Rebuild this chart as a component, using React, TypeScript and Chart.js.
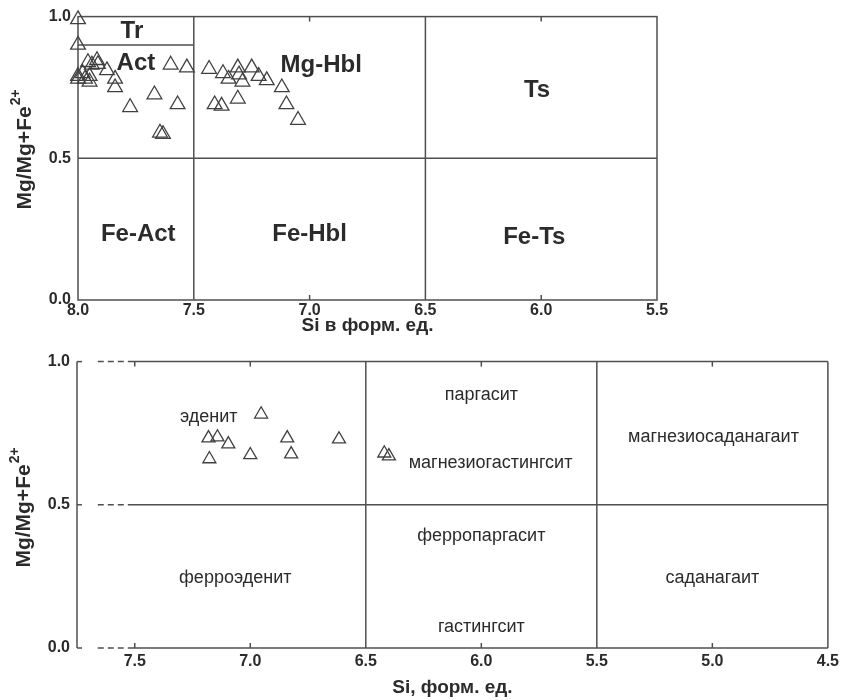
import React, { useEffect, useRef } from "react";
import { Chart, registerables } from "chart.js";
Chart.register(...registerables);

const FONT = "'Liberation Sans', Arial, Helvetica, sans-serif";
const TEXT = "#2b2b2b";
const LINE = "#4f4f4f";
const MARK = "#404040";

// ---------- Top diagram (Si 8.0 – 5.5) ----------
const topXTicks = [8.0, 7.5, 7.0, 6.5, 6.0, 5.5];
const topYTicks = [0.0, 0.5, 1.0];
const topSi = [
  8.0, 8.0, 7.957, 7.918, 7.914, 7.94, 7.875, 8.0, 7.98, 8.0, 7.95, 7.95, 7.97,
  7.84, 7.84, 7.775, 7.67, 7.646, 7.633, 7.6, 7.57, 7.53,
  7.434, 7.374, 7.35, 7.31, 7.305, 7.29, 7.25, 7.22, 7.185, 7.12,
  7.41, 7.38, 7.31, 7.1, 7.05,
];
const topMg = [
  0.99, 0.9, 0.839, 0.846, 0.832, 0.83, 0.81, 0.79, 0.8, 0.78, 0.77, 0.79, 0.78,
  0.78, 0.75, 0.68, 0.725, 0.59, 0.585, 0.83, 0.69, 0.82,
  0.815, 0.8, 0.78, 0.82, 0.795, 0.77, 0.82, 0.79, 0.775, 0.75,
  0.69, 0.685, 0.71, 0.69, 0.635,
];
const topFieldNames = ["Tr", "Act", "Mg-Hbl", "Ts", "Fe-Act", "Fe-Hbl", "Fe-Ts"];
const topFieldSi = [7.767, 7.75, 6.95, 6.018, 7.74, 7.0, 6.03];
const topFieldMg = [0.948, 0.836, 0.829, 0.741, 0.23, 0.23, 0.22];
const topVertBounds = [7.5, 6.5];
const topMinorTicks = [7.0, 6.0];

// ---------- Bottom diagram (Si 7.75 – 4.5) ----------
const botXTicks = [7.5, 7.0, 6.5, 6.0, 5.5, 5.0, 4.5];
const botYTicks = [0.0, 0.5, 1.0];
const botSi = [6.953, 7.181, 7.142, 7.095, 7.177, 7.0, 6.84, 6.823, 6.616, 6.42, 6.4];
const botMg = [0.816, 0.733, 0.736, 0.712, 0.66, 0.674, 0.733, 0.677, 0.729, 0.68, 0.67];
const botFieldNames = [
  "паргасит", "магнезиогастингсит", "магнезиосаданагаит", "эденит",
  "ферропаргасит", "ферроэденит", "саданагаит", "гастингсит",
];
const botFieldSi = [6.0, 5.96, 4.995, 7.18, 6.0, 7.065, 5.0, 6.0];
const botFieldMg = [0.882, 0.646, 0.736, 0.806, 0.392, 0.243, 0.243, 0.073];
const botVertBounds = [6.5, 5.5];
const botMinorTicks = [7.5, 7.0, 6.0, 5.0];

function seg(ctx: CanvasRenderingContext2D, x1: number, y1: number, x2: number, y2: number) {
  ctx.beginPath();
  ctx.moveTo(x1, y1);
  ctx.lineTo(x2, y2);
  ctx.stroke();
}

function drawYTitle(ctx: CanvasRenderingContext2D, cx: number, cy: number) {
  ctx.save();
  ctx.translate(cx, cy);
  ctx.rotate(-Math.PI / 2);
  ctx.fillStyle = TEXT;
  ctx.textBaseline = "middle";
  ctx.textAlign = "left";
  const main = "Mg/Mg+Fe";
  const sup = "2+";
  ctx.font = `bold 21px ${FONT}`;
  const w1 = ctx.measureText(main).width;
  ctx.font = `bold 14px ${FONT}`;
  const w2 = ctx.measureText(sup).width;
  const x0 = -(w1 + w2) / 2;
  ctx.font = `bold 21px ${FONT}`;
  ctx.fillText(main, x0, 0);
  ctx.font = `bold 14px ${FONT}`;
  ctx.fillText(sup, x0 + w1 + 1, -9);
  ctx.restore();
}

const topPlugin = {
  id: "topFrame",
  beforeDatasetsDraw(chart: any) {
    const { ctx, chartArea: a, scales } = chart;
    const x = (v: number) => scales.x.getPixelForValue(v);
    const y = (v: number) => scales.y.getPixelForValue(v);
    ctx.save();
    ctx.strokeStyle = LINE;
    ctx.lineWidth = 1.5;
    ctx.strokeRect(a.left, a.top, a.right - a.left, a.bottom - a.top);
    topVertBounds.forEach((v) => seg(ctx, x(v), y(0), x(v), y(1)));
    seg(ctx, x(8.0), y(0.5), x(5.5), y(0.5));
    seg(ctx, x(8.0), y(0.9), x(7.5), y(0.9));
    topMinorTicks.forEach((v) => {
      seg(ctx, x(v), y(0), x(v), y(0) - 5);
      seg(ctx, x(v), y(1), x(v), y(1) + 5);
    });
    ctx.fillStyle = TEXT;
    ctx.font = `bold 24px ${FONT}`;
    ctx.textAlign = "center";
    ctx.textBaseline = "middle";
    topFieldNames.forEach((n, i) => ctx.fillText(n, x(topFieldSi[i]), y(topFieldMg[i])));
    ctx.font = `bold 19px ${FONT}`;
    ctx.fillText("Si в форм. ед.", (a.left + a.right) / 2, 326);
    drawYTitle(ctx, 25, 150);
    ctx.restore();
  },
};

const botPlugin = {
  id: "botFrame",
  beforeDatasetsDraw(chart: any) {
    const { ctx, chartArea: a, scales } = chart;
    const x = (v: number) => scales.x.getPixelForValue(v);
    const y = (v: number) => scales.y.getPixelForValue(v);
    ctx.save();
    ctx.strokeStyle = LINE;
    ctx.lineWidth = 1.5;
    // left axis with ticks
    seg(ctx, a.left, y(0), a.left, y(1));
    botYTicks.forEach((v) => seg(ctx, a.left, y(v), a.left + 5, y(v)));
    botYTicks.forEach((v) => {
      ctx.setLineDash([6, 4]);
      seg(ctx, x(7.66), y(v), x(7.53), y(v));
      ctx.setLineDash([]);
      seg(ctx, x(7.53), y(v), x(4.5), y(v));
    });
    seg(ctx, x(4.5), y(0), x(4.5), y(1));
    botVertBounds.forEach((v) => seg(ctx, x(v), y(0), x(v), y(1)));
    botMinorTicks.forEach((v) => {
      seg(ctx, x(v), y(0), x(v), y(0) - 5);
      seg(ctx, x(v), y(1), x(v), y(1) + 5);
    });
    ctx.fillStyle = TEXT;
    ctx.font = `18px ${FONT}`;
    ctx.textAlign = "center";
    ctx.textBaseline = "middle";
    botFieldNames.forEach((n, i) => ctx.fillText(n, x(botFieldSi[i]), y(botFieldMg[i])));
    ctx.font = `bold 19px ${FONT}`;
    ctx.fillText("Si, форм. ед.", (a.left + a.right) / 2, 343);
    drawYTitle(ctx, 24, 163);
    ctx.restore();
  },
};

function scaleCfg(
  min: number,
  max: number,
  ticks: number[],
  horizontal: boolean,
  size: number,
  reverse: boolean,
  pad: number
) {
  return {
    type: "linear",
    min,
    max,
    reverse,
    afterBuildTicks: (s: any) => {
      s.ticks = ticks.map((v) => ({ value: v }));
    },
    afterFit: (s: any) => {
      if (horizontal) s.height = size;
      else s.width = size;
    },
    grid: { display: false, drawTicks: false },
    border: { display: false },
    ticks: {
      autoSkip: false,
      maxRotation: 0,
      padding: pad,
      color: TEXT,
      font: { family: FONT, size: 16, weight: "bold" },
      callback: (v: any) => Number(v).toFixed(1),
    },
  };
}

function config(
  si: number[],
  mg: number[],
  radius: number,
  xs: any,
  ys: any,
  padding: any,
  plugin: any
): any {
  return {
    type: "scatter",
    data: {
      datasets: [
        {
          data: si.map((v, i) => ({ x: v, y: mg[i] })),
          pointStyle: "triangle",
          pointRadius: radius,
          pointHoverRadius: radius,
          borderColor: MARK,
          backgroundColor: "rgba(0,0,0,0)",
          borderWidth: 1.3,
          clip: false,
        },
      ],
    },
    options: {
      responsive: false,
      animation: false,
      events: [],
      layout: { padding },
      plugins: { legend: { display: false }, tooltip: { enabled: false } },
      scales: { x: xs, y: ys },
    },
    plugins: [plugin],
  };
}

export default function App() {
  const topRef = useRef<HTMLCanvasElement>(null);
  const botRef = useRef<HTMLCanvasElement>(null);
  useEffect(() => {
    const c1 = new Chart(
      topRef.current as HTMLCanvasElement,
      config(
        topSi,
        topMg,
        8.5,
        scaleCfg(5.5, 8.0, topXTicks, true, 45, true, 1),
        scaleCfg(0, 1, topYTicks, false, 78, false, 7),
        { top: 14, right: 186, left: 0, bottom: 0 },
        topPlugin
      )
    );
    const c2 = new Chart(
      botRef.current as HTMLCanvasElement,
      config(
        botSi,
        botMg,
        7.5,
        scaleCfg(4.5, 7.75, botXTicks, true, 52, true, 4),
        scaleCfg(0, 1, botYTicks, false, 77, false, 7),
        { top: 15, right: 13, left: 0, bottom: 0 },
        botPlugin
      )
    );
    return () => {
      c1.destroy();
      c2.destroy();
    };
  }, []);
  return (
    <div style={{ position: "absolute", left: 0, top: 0, width: 843, height: 700, background: "#fff" }}>
      <canvas ref={topRef} width={843} height={345} style={{ position: "absolute", left: 0, top: 0 }} />
      <canvas ref={botRef} width={843} height={355} style={{ position: "absolute", left: 0, top: 345 }} />
    </div>
  );
}
